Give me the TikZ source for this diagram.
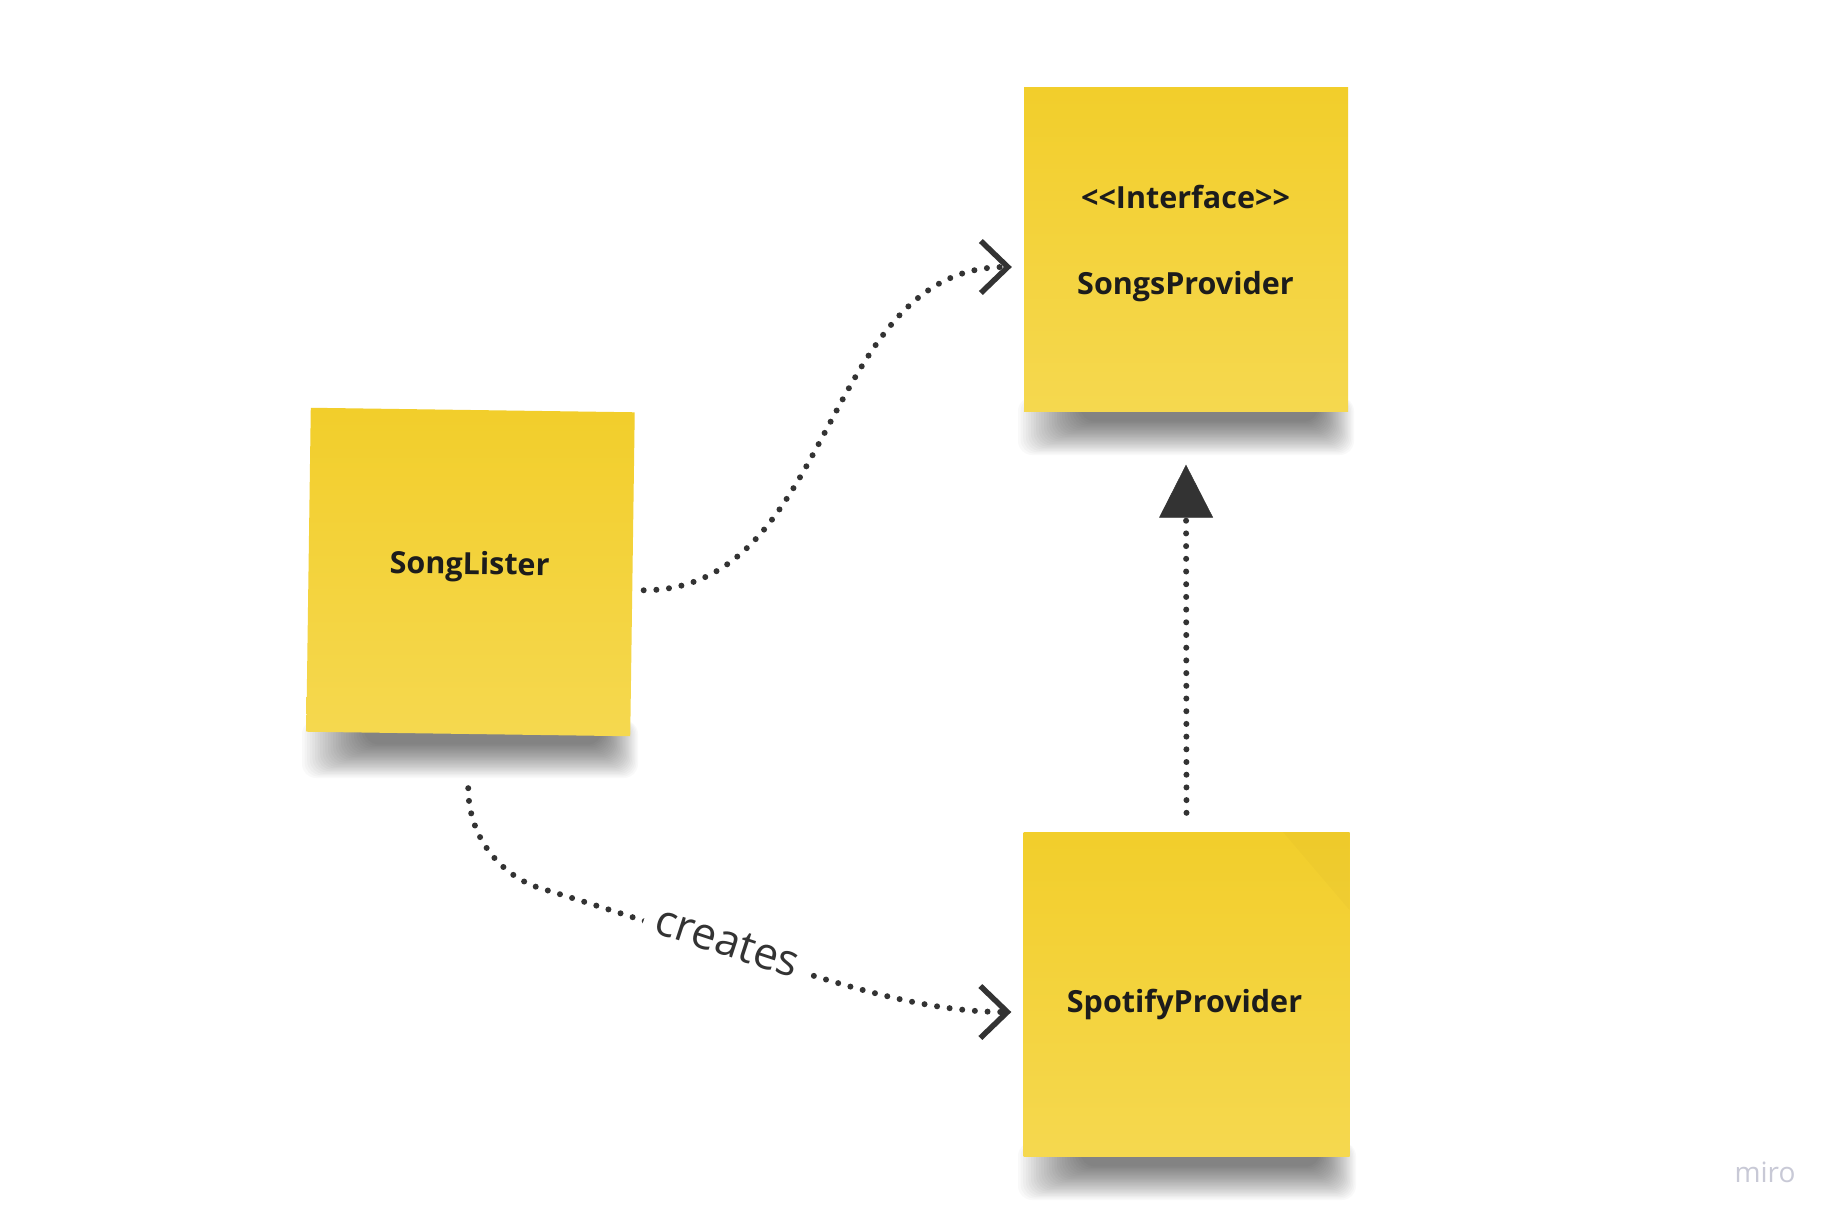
\documentclass[tikz,border=0pt]{standalone}
\usepackage{fontspec}
\setmainfont{Open Sans}
\usetikzlibrary{arrows.meta,calc}
\definecolor{stickytop}{HTML}{F2CE2B}
\definecolor{stickybot}{HTML}{F5D84F}
\definecolor{ink}{HTML}{333333}
\definecolor{txt}{HTML}{1C1C1C}
\definecolor{logo}{HTML}{C8C9D6}
\tikzset{
  sticky/.style={draw=none, top color=stickytop, bottom color=stickybot,
    minimum width=324pt, minimum height=324pt, inner sep=0pt},
  stickytext/.style={anchor=base, text=txt, inner sep=0pt,
    font=\bfseries\fontsize{30.5}{36}\selectfont},
  dotlink/.style={draw=ink, line width=6pt, line cap=round,
    dash pattern=on 0pt off 12.7pt},
  openhead/.style={-{Straight Barb[length=27pt,width=52pt,line width=5.5pt]}},
  trihead/.style={-{Triangle[length=53pt,width=54pt,line width=0.5pt]}},
  linklabel/.style={fill=white, text=ink, inner xsep=12pt, inner ysep=2pt,
    font=\fontsize{44}{50}\selectfont},
}
\newcommand\stickyshadowat[3]{%
  \foreach \k in {0,...,24}{%
    \fill[black, opacity=0.025, rounded corners=14pt]
      ({#1-6+2.6*\k},{#3-14}) rectangle ({#2+6-1.5*\k},{#3+44-1.4*\k});
  }%
}
\begin{document}
\begin{tikzpicture}[x=1pt,y=-1pt]
\useasboundingbox (0,0) rectangle (1837,1224);
\fill[white] (0,0) rectangle (1837,1224);

% shadows
\stickyshadowat{308}{632}{734}
\stickyshadowat{1024}{1348}{411}
\stickyshadowat{1024}{1350}{1156}

% stickies
\node[sticky, rotate=-0.8] (lister) at (470.5,572) {};
\node[sticky] (songs) at (1186,249.5) {};
\node[sticky, minimum width=326pt] (spotify) at (1186.5,994) {};
\fill[black, opacity=0.015] (1283,832) -- (1349.5,832) -- (1349.5,910) -- cycle;

% texts
\node[stickytext, rotate=-0.8] (listerlbl) at (469.5,574.5) {SongLister};
\node[stickytext] (songslbl1) at (1185.5,208.5) {<{}<Interface>{}>};
\node[stickytext] (songslbl2) at (1185.5,294) {SongsProvider};
\node[stickytext] (spotifylbl) at (1184.5,1012) {SpotifyProvider};

% connectors
\coordinate (c1a) at ($(lister.east)+(11,16)$);
\coordinate (c1b) at ($(songs.west)+(-12,17.5)$);
\draw[dotlink, openhead] (c1a) .. controls ($(c1a)+(192,0)$) and ($(c1b)+(-192,0)$) .. (c1b);

\coordinate (c2a) at ($(spotify.north)+(0,-19)$);
\coordinate (c2b) at ($(songs.south)+(0,53)$);
\draw[dotlink, trihead] (c2a) -- (c2b);

\coordinate (c3a) at ($(lister.south)+(0,54)$);
\coordinate (c3b) at ($(spotify.west)+(-12,18)$);
\draw[dotlink, openhead] (c3a)
  .. controls ($(c3a)+(0,52)$) and ($(c3a)+(36,89)$) .. ($(c3a)+(72,100)$)
  .. controls ($(c3a)+(302,170)$) and ($(c3b)+(-122,0)$) .. (c3b)
  node[pos=0.31, sloped, yshift=6pt, linklabel] (createslbl) {creates};

% logo
\node[anchor=base, text=logo, inner sep=0pt, font=\fontsize{28}{30}\selectfont] (logo) at (1765,1182) {miro};
\end{tikzpicture}
\end{document}
